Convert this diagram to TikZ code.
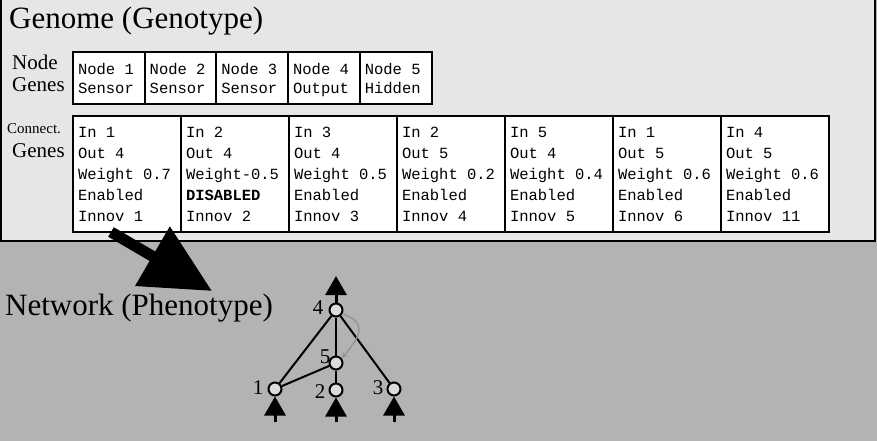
\documentclass[tikz,border=0pt]{standalone}
\usepackage{fontspec}
\setmainfont{Liberation Serif}
\setmonofont{Liberation Mono}
\usetikzlibrary{arrows.meta}
\usetikzlibrary{positioning}
\definecolor{panelgray}{HTML}{E6E6E6}
\definecolor{groundgray}{HTML}{B3B3B3}
\definecolor{unitgray}{HTML}{DCDCDC}
\definecolor{loopgray}{HTML}{959595}
\newcommand{\gsp}{\hspace*{.6em}}

\begin{document}
\begin{tikzpicture}[x=1pt, y=-1pt,
 gene/.style={draw, line width=2, fill=white, anchor=north west, inner xsep=5, inner ysep=0, align=left},
 unit/.style={circle, draw, line width=2, fill=unitgray, minimum size=13, inner sep=0},
 unitlabel/.style={font=\fontsize{21}{21}\selectfont, inner sep=0},
 title/.style={anchor=base west, inner sep=0, font=\fontsize{31}{31}\selectfont},
 rowlabel/.style={anchor=base west, inner sep=0, font=\fontsize{21}{21}\selectfont},
 link/.style={black, line width=2},
 inarrow/.style={black, line width=3, -{Triangle[width=21pt, length=19pt]}},
 ]
\useasboundingbox (0,0) rectangle (877,441);
\fill[groundgray] (0,0) rectangle (877,441);
\filldraw[fill=panelgray, line width=2] (1,-5) rectangle (875,241);

% genome
\node[title] (genome) at (9,29) {Genome (Genotype)};
\node[rowlabel] (nodelbl) at (12,70) {Node};
\node[rowlabel] (nodegenes) at (12,92) {Genes};
\node[rowlabel, font=\fontsize{15}{15}\selectfont] (connlbl) at (7,133) {Connect.};
\node[rowlabel] (conngenes) at (12,157) {Genes};
\foreach \i/\kind in {1/Sensor,2/Sensor,3/Sensor,4/Output,5/Hidden}
 \node[gene, font=\ttfamily\fontsize{15.5}{19}\selectfont, text width=61.7, minimum height=52] (ng\i) at ({72+71.7*(\i-1)},51) {\rule{0pt}{18pt}Node\gsp\i\\\kind\strut};
\foreach \i/\src/\dst/\wt/\state/\innov in {1/1/4/{Weight\gsp0.7}/Enabled/1, 2/2/4/{Weight-0.5}/{\textbf{DISABLED}}/2, 3/3/4/{Weight\gsp0.5}/Enabled/3, 4/2/5/{Weight\gsp0.2}/Enabled/4, 5/5/4/{Weight\gsp0.4}/Enabled/5, 6/1/5/{Weight\gsp0.6}/Enabled/6, 7/4/5/{Weight\gsp0.6}/Enabled/11}
 \node[gene, font=\ttfamily\fontsize{15.5}{21}\selectfont, text width=98, minimum height=116] (cg\i) at ({72+108*(\i-1)},115) {In\gsp\src\\Out\gsp\dst\\\wt\\\state\\Innov\gsp\innov};

% genotype -> phenotype
\coordinate (gtail) at (111,232);
\coordinate (ghead) at (212,291);
\draw[line width=11, -{Triangle[width=66pt, length=69pt]}] (gtail) -- (ghead);

% network
\node[title] (network) at (5,315) {Network (Phenotype)};
\node[unit] (n4) at (336,310) {};
\node[unit] (n5) at (336,363) {};
\node[unit] (n1) at (275,389) {};
\node[unit] (n2) at (336,390) {};
\node[unit] (n3) at (394,389) {};
\node[unitlabel] (l4) at (318,308) {4};
\node[unitlabel] (l5) at (325,357) {5};
\node[unitlabel] (l1) at (258,388) {1};
\node[unitlabel] (l2) at (320,392) {2};
\node[unitlabel] (l3) at (378,388) {3};
\draw[link] (n4) -- (n1);
\draw[link] (n4) -- (n5);
\draw[link] (n4) -- (n3);
\draw[link] (n5) -- (n2);
\draw[link] (n5) -- (n1);
\draw[loopgray, line width=1.5, -{Stealth[length=6pt, width=6pt]}] (n4.-30) to[out=-20, in=50, looseness=1.6] (n5.40);
\coordinate (i1) at (275,422);
\coordinate (i2) at (336,422);
\coordinate (i3) at (394,422);
\coordinate (o4) at (336,276);
\draw[inarrow] (i1) -- (n1);
\draw[inarrow] (i2) -- (n2);
\draw[inarrow] (i3) -- (n3);
\draw[inarrow] (n4) -- (o4);
\end{tikzpicture}
\end{document}
